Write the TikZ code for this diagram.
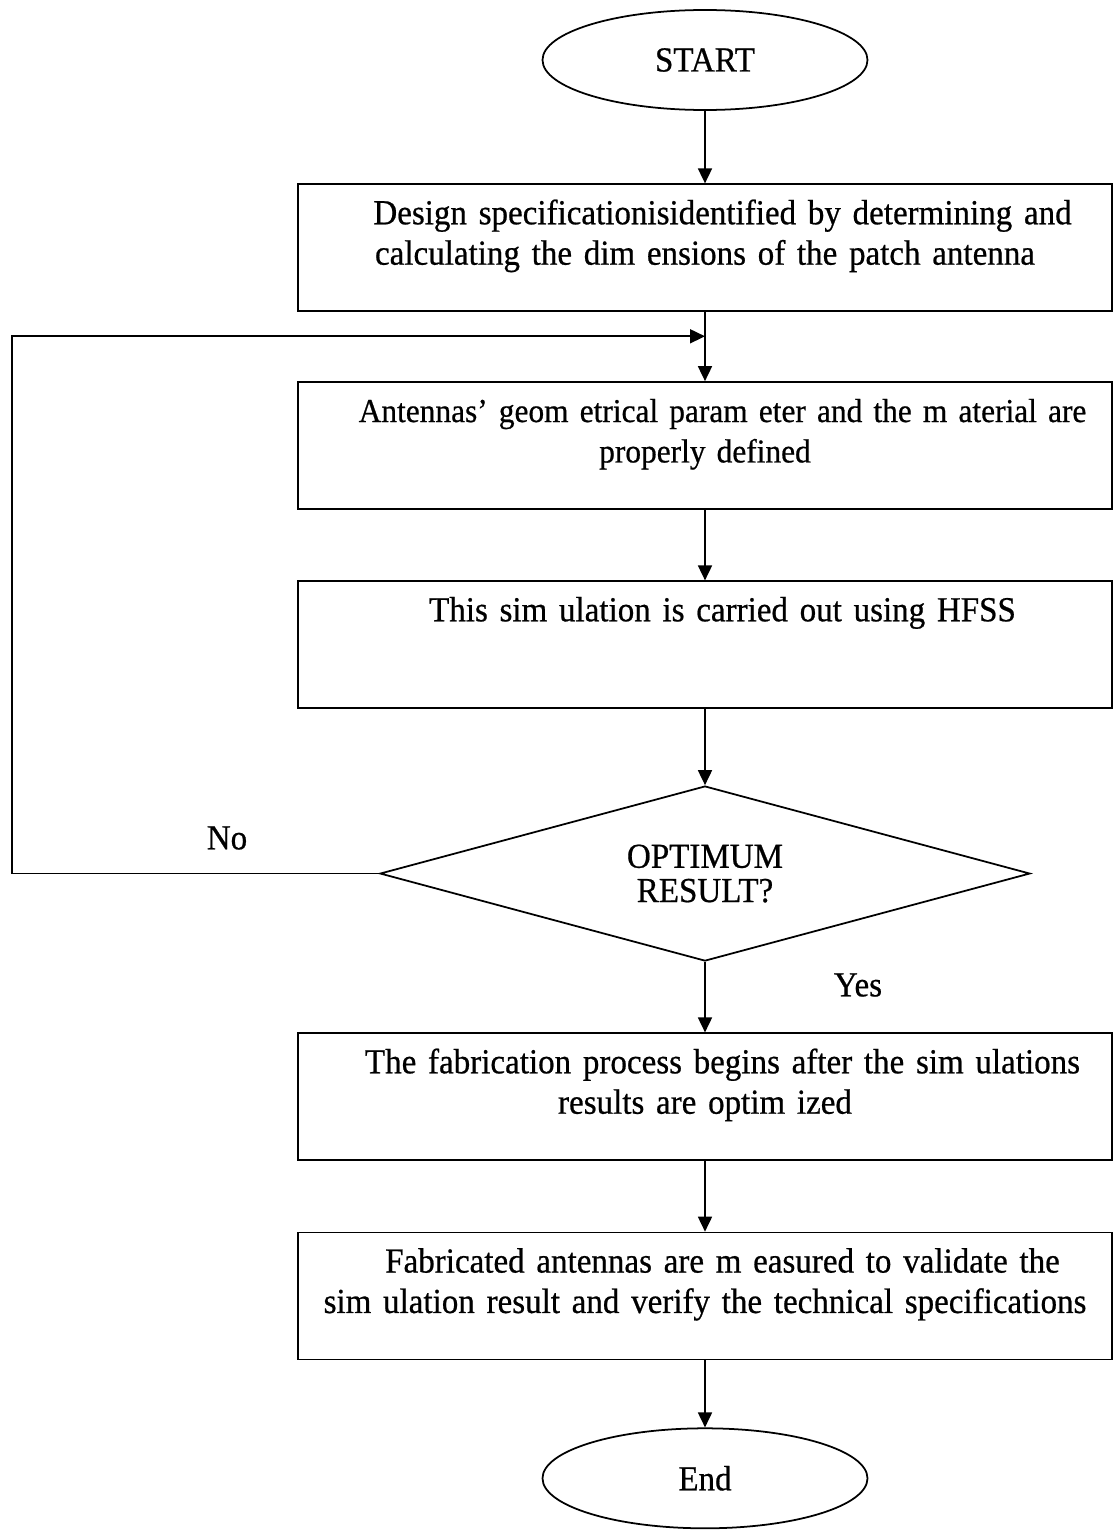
\documentclass[tikz,border=0pt]{standalone}
\usepackage{fontspec}
\setmainfont{Liberation Serif}[FakeStretch=0.94, FakeBold=0.6]
\usepackage{tikz}
\usetikzlibrary{shapes, arrows.meta, positioning, calc}
\newcommand{\firstind}{\hspace*{0.7cm}}
\tikzstyle{startstop} = [ellipse, minimum width=6.5cm, minimum height=2cm, draw=black, line width=1pt, font=\fontsize{20}{23}\selectfont]
\tikzstyle{process} = [rectangle, minimum width=16.28cm, text width=16.24cm, align=center, inner xsep=0.02cm, inner ysep=0.25cm, text height=0.55cm, text depth=1.49cm, draw=black, line width=1pt, font=\fontsize{20}{23}\selectfont]
\tikzstyle{decision} = [diamond, minimum width=13cm, minimum height=3.5cm, aspect=3.7, inner sep=0pt, align=center, draw=black, line width=1pt, font=\fontsize{20}{19.5}\selectfont]
\tikzstyle{arrow} = [line width=1pt, -{Triangle[length=0.3cm, width=0.28cm]}]
\begin{document}
\begin{tikzpicture}[node distance=1.41cm]
\useasboundingbox (0,0) rectangle (22.34,-30.6);
\node (start) [startstop] at (14.1,-1.2) {START};
\node (b1) [process, below=1.45cm of start] {\firstind Design specificationisidentified by determining and\\calculating the dim ensions of the patch antenna};
\node (b2) [process, below=1.38cm of b1, font=\fontsize{19}{23}\selectfont] {\firstind Antennas’ geom etrical param eter and the m aterial are\\properly defined};
\node (b3) [process, below=of b2] {\firstind This sim ulation is carried out using HFSS};
\node (dec) [decision, below=1.52cm of b3] {OPTIMUM\\RESULT?};
\node (b4) [process, below=of dec] {\firstind The fabrication process begins after the sim ulations\\results are optim ized};
\node (b5) [process, below=of b4] {\firstind Fabricated antennas are m easured to validate the\\sim ulation result and verify the technical specifications};
\node (stop) [startstop, below=1.34cm of b5] {End};
\node (no) [font=\fontsize{20}{23}\selectfont] at (4.54,-16.76) {No};
\node (yes) [font=\fontsize{20}{23}\selectfont] at (17.16,-19.7) {Yes};
% loop back
\coordinate (loopin) at ($(b1.south)!0.35!(b2.north)$);
\coordinate (loopleft) at ($(loopin)+(-13.86,0)$);
\draw[arrow] (start) -- (b1);
\draw[arrow] (b1) -- (b2);
\draw[arrow] (b2) -- (b3);
\draw[arrow] (b3) -- (dec);
\draw[arrow] (dec) -- (b4);
\draw[arrow] (b4) -- (b5);
\draw[arrow] (b5) -- (stop);
\draw[arrow] (dec.west) -| (loopleft) -- (loopin);
\end{tikzpicture}
\end{document}
